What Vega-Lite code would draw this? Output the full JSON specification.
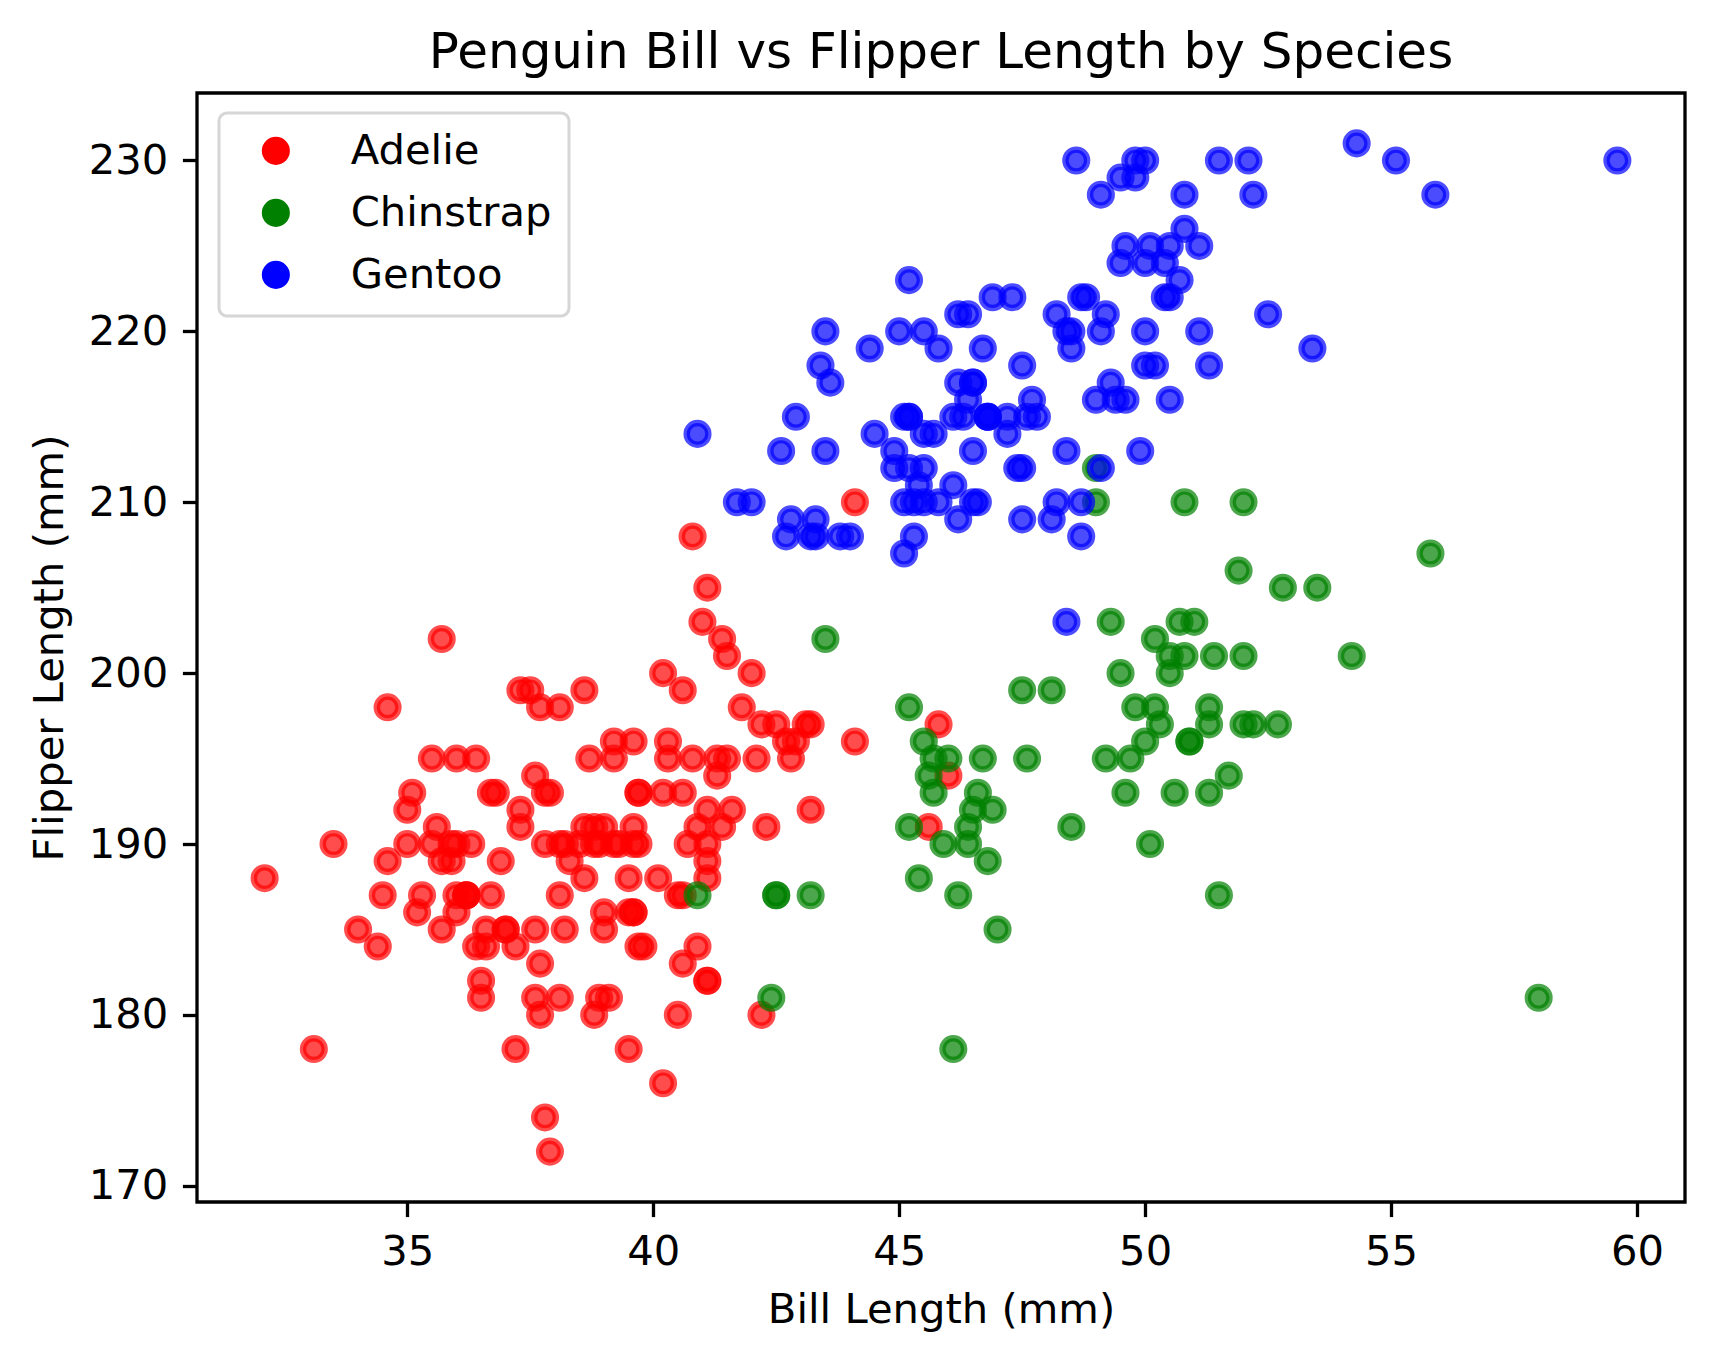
{
"$schema": "https://vega.github.io/schema/vega-lite/v6.json",
"width": 1488, "height": 1109,
"autosize": {"type": "none"},
"padding": {"left": 197, "top": 93, "right": 30, "bottom": 159},
"background": "white",
"title": {"text": "Penguin Bill vs Flipper Length by Species", "fontSize": 50, "font": "DejaVu Sans", "fontWeight": "normal", "color": "black", "anchor": "middle", "baseline": "alphabetic", "offset": 25, "dy": 50},
"data": {"values": [
{"species":"Adelie","bill":39.1,"flipper":181},{"species":"Adelie","bill":39.5,"flipper":186},{"species":"Adelie","bill":40.3,"flipper":195},{"species":"Adelie","bill":36.7,"flipper":193},{"species":"Adelie","bill":39.3,"flipper":190},{"species":"Adelie","bill":38.9,"flipper":181},{"species":"Adelie","bill":39.2,"flipper":195},{"species":"Adelie","bill":41.1,"flipper":182},{"species":"Adelie","bill":38.6,"flipper":191},{"species":"Adelie","bill":34.6,"flipper":198},{"species":"Adelie","bill":36.6,"flipper":185},{"species":"Adelie","bill":38.7,"flipper":195},{"species":"Adelie","bill":42.5,"flipper":197},{"species":"Adelie","bill":34.4,"flipper":184},{"species":"Adelie","bill":46.0,"flipper":194},
{"species":"Adelie","bill":37.8,"flipper":174},{"species":"Adelie","bill":37.7,"flipper":180},{"species":"Adelie","bill":35.9,"flipper":189},{"species":"Adelie","bill":38.2,"flipper":185},{"species":"Adelie","bill":38.8,"flipper":180},{"species":"Adelie","bill":35.3,"flipper":187},{"species":"Adelie","bill":40.6,"flipper":183},{"species":"Adelie","bill":40.5,"flipper":187},{"species":"Adelie","bill":37.9,"flipper":172},{"species":"Adelie","bill":40.5,"flipper":180},
{"species":"Adelie","bill":39.5,"flipper":178},{"species":"Adelie","bill":37.2,"flipper":178},{"species":"Adelie","bill":39.5,"flipper":188},{"species":"Adelie","bill":40.9,"flipper":184},{"species":"Adelie","bill":36.4,"flipper":195},{"species":"Adelie","bill":39.2,"flipper":196},{"species":"Adelie","bill":38.8,"flipper":190},{"species":"Adelie","bill":42.2,"flipper":180},{"species":"Adelie","bill":37.6,"flipper":181},{"species":"Adelie","bill":39.8,"flipper":184},{"species":"Adelie","bill":36.5,"flipper":182},{"species":"Adelie","bill":40.8,"flipper":195},{"species":"Adelie","bill":36.0,"flipper":186},{"species":"Adelie","bill":44.1,"flipper":196},{"species":"Adelie","bill":37.0,"flipper":185},{"species":"Adelie","bill":39.6,"flipper":190},{"species":"Adelie","bill":41.1,"flipper":182},{"species":"Adelie","bill":36.0,"flipper":190},{"species":"Adelie","bill":42.3,"flipper":191},
{"species":"Adelie","bill":39.6,"flipper":186},{"species":"Adelie","bill":40.1,"flipper":188},{"species":"Adelie","bill":35.0,"flipper":190},{"species":"Adelie","bill":42.0,"flipper":200},{"species":"Adelie","bill":34.5,"flipper":187},{"species":"Adelie","bill":41.4,"flipper":191},{"species":"Adelie","bill":39.0,"flipper":186},{"species":"Adelie","bill":40.6,"flipper":193},{"species":"Adelie","bill":36.5,"flipper":181},{"species":"Adelie","bill":37.6,"flipper":194},{"species":"Adelie","bill":35.7,"flipper":185},{"species":"Adelie","bill":41.3,"flipper":195},{"species":"Adelie","bill":37.6,"flipper":185},{"species":"Adelie","bill":41.1,"flipper":192},{"species":"Adelie","bill":36.4,"flipper":184},{"species":"Adelie","bill":41.6,"flipper":192},{"species":"Adelie","bill":35.5,"flipper":195},{"species":"Adelie","bill":41.1,"flipper":188},
{"species":"Adelie","bill":35.9,"flipper":190},{"species":"Adelie","bill":41.8,"flipper":198},{"species":"Adelie","bill":33.5,"flipper":190},{"species":"Adelie","bill":39.7,"flipper":190},{"species":"Adelie","bill":39.6,"flipper":196},{"species":"Adelie","bill":45.8,"flipper":197},{"species":"Adelie","bill":35.5,"flipper":190},{"species":"Adelie","bill":42.8,"flipper":195},{"species":"Adelie","bill":40.9,"flipper":191},{"species":"Adelie","bill":37.2,"flipper":184},{"species":"Adelie","bill":36.2,"flipper":187},{"species":"Adelie","bill":42.1,"flipper":195},{"species":"Adelie","bill":34.6,"flipper":189},{"species":"Adelie","bill":42.9,"flipper":196},{"species":"Adelie","bill":36.7,"flipper":187},{"species":"Adelie","bill":35.1,"flipper":193},
{"species":"Adelie","bill":37.3,"flipper":191},{"species":"Adelie","bill":41.3,"flipper":194},{"species":"Adelie","bill":36.3,"flipper":190},{"species":"Adelie","bill":36.9,"flipper":189},{"species":"Adelie","bill":38.3,"flipper":189},{"species":"Adelie","bill":38.9,"flipper":190},{"species":"Adelie","bill":35.7,"flipper":202},{"species":"Adelie","bill":41.1,"flipper":205},{"species":"Adelie","bill":34.0,"flipper":185},{"species":"Adelie","bill":39.6,"flipper":186},{"species":"Adelie","bill":36.2,"flipper":187},{"species":"Adelie","bill":40.8,"flipper":208},{"species":"Adelie","bill":38.1,"flipper":190},{"species":"Adelie","bill":40.3,"flipper":196},{"species":"Adelie","bill":33.1,"flipper":178},{"species":"Adelie","bill":43.2,"flipper":192},
{"species":"Adelie","bill":35.0,"flipper":192},{"species":"Adelie","bill":41.0,"flipper":203},{"species":"Adelie","bill":37.7,"flipper":183},{"species":"Adelie","bill":37.8,"flipper":190},{"species":"Adelie","bill":37.9,"flipper":193},{"species":"Adelie","bill":39.7,"flipper":184},{"species":"Adelie","bill":38.6,"flipper":199},{"species":"Adelie","bill":38.2,"flipper":190},{"species":"Adelie","bill":38.1,"flipper":181},{"species":"Adelie","bill":43.2,"flipper":197},{"species":"Adelie","bill":38.1,"flipper":198},{"species":"Adelie","bill":45.6,"flipper":191},{"species":"Adelie","bill":39.7,"flipper":193},{"species":"Adelie","bill":42.2,"flipper":197},{"species":"Adelie","bill":39.6,"flipper":191},{"species":"Adelie","bill":42.7,"flipper":196},
{"species":"Adelie","bill":38.6,"flipper":188},{"species":"Adelie","bill":37.3,"flipper":199},{"species":"Adelie","bill":35.7,"flipper":189},{"species":"Adelie","bill":41.1,"flipper":189},{"species":"Adelie","bill":36.2,"flipper":187},{"species":"Adelie","bill":37.7,"flipper":198},{"species":"Adelie","bill":40.2,"flipper":176},{"species":"Adelie","bill":41.4,"flipper":202},{"species":"Adelie","bill":35.2,"flipper":186},{"species":"Adelie","bill":40.6,"flipper":199},{"species":"Adelie","bill":38.8,"flipper":191},{"species":"Adelie","bill":41.5,"flipper":195},{"species":"Adelie","bill":39.0,"flipper":191},{"species":"Adelie","bill":44.1,"flipper":210},{"species":"Adelie","bill":38.5,"flipper":190},{"species":"Adelie","bill":43.1,"flipper":197},
{"species":"Adelie","bill":36.8,"flipper":193},{"species":"Adelie","bill":37.5,"flipper":199},{"species":"Adelie","bill":38.1,"flipper":187},{"species":"Adelie","bill":41.1,"flipper":190},{"species":"Adelie","bill":35.6,"flipper":191},{"species":"Adelie","bill":40.2,"flipper":200},{"species":"Adelie","bill":37.0,"flipper":185},{"species":"Adelie","bill":39.7,"flipper":193},{"species":"Adelie","bill":40.2,"flipper":193},{"species":"Adelie","bill":40.6,"flipper":187},{"species":"Adelie","bill":32.1,"flipper":188},{"species":"Adelie","bill":40.7,"flipper":190},{"species":"Adelie","bill":37.3,"flipper":192},{"species":"Adelie","bill":39.0,"flipper":185},{"species":"Adelie","bill":39.2,"flipper":190},{"species":"Adelie","bill":36.6,"flipper":184},{"species":"Adelie","bill":36.0,"flipper":195},{"species":"Adelie","bill":37.8,"flipper":193},{"species":"Adelie","bill":36.0,"flipper":187},{"species":"Adelie","bill":41.5,"flipper":201},
{"species":"Chinstrap","bill":46.5,"flipper":192},{"species":"Chinstrap","bill":50.0,"flipper":196},{"species":"Chinstrap","bill":51.3,"flipper":193},{"species":"Chinstrap","bill":45.4,"flipper":188},{"species":"Chinstrap","bill":52.7,"flipper":197},{"species":"Chinstrap","bill":45.2,"flipper":198},{"species":"Chinstrap","bill":46.1,"flipper":178},{"species":"Chinstrap","bill":51.3,"flipper":197},{"species":"Chinstrap","bill":46.0,"flipper":195},{"species":"Chinstrap","bill":51.3,"flipper":198},{"species":"Chinstrap","bill":46.6,"flipper":193},{"species":"Chinstrap","bill":51.7,"flipper":194},{"species":"Chinstrap","bill":47.0,"flipper":185},{"species":"Chinstrap","bill":52.0,"flipper":201},{"species":"Chinstrap","bill":45.9,"flipper":190},{"species":"Chinstrap","bill":50.5,"flipper":201},{"species":"Chinstrap","bill":50.3,"flipper":197},{"species":"Chinstrap","bill":58.0,"flipper":181},{"species":"Chinstrap","bill":46.4,"flipper":190},{"species":"Chinstrap","bill":49.2,"flipper":195},{"species":"Chinstrap","bill":42.4,"flipper":181},{"species":"Chinstrap","bill":48.5,"flipper":191},{"species":"Chinstrap","bill":43.2,"flipper":187},{"species":"Chinstrap","bill":50.6,"flipper":193},{"species":"Chinstrap","bill":46.7,"flipper":195},{"species":"Chinstrap","bill":52.0,"flipper":197},{"species":"Chinstrap","bill":50.5,"flipper":200},{"species":"Chinstrap","bill":49.5,"flipper":200},{"species":"Chinstrap","bill":46.4,"flipper":191},{"species":"Chinstrap","bill":52.8,"flipper":205},{"species":"Chinstrap","bill":40.9,"flipper":187},{"species":"Chinstrap","bill":54.2,"flipper":201},{"species":"Chinstrap","bill":42.5,"flipper":187},{"species":"Chinstrap","bill":51.0,"flipper":203},{"species":"Chinstrap","bill":49.7,"flipper":195},{"species":"Chinstrap","bill":47.5,"flipper":199},{"species":"Chinstrap","bill":47.6,"flipper":195},{"species":"Chinstrap","bill":52.0,"flipper":210},{"species":"Chinstrap","bill":46.9,"flipper":192},{"species":"Chinstrap","bill":53.5,"flipper":205},{"species":"Chinstrap","bill":49.0,"flipper":210},{"species":"Chinstrap","bill":46.2,"flipper":187},{"species":"Chinstrap","bill":50.9,"flipper":196},{"species":"Chinstrap","bill":45.5,"flipper":196},{"species":"Chinstrap","bill":50.9,"flipper":196},{"species":"Chinstrap","bill":50.8,"flipper":201},{"species":"Chinstrap","bill":50.1,"flipper":190},{"species":"Chinstrap","bill":49.0,"flipper":212},{"species":"Chinstrap","bill":51.5,"flipper":187},{"species":"Chinstrap","bill":49.8,"flipper":198},{"species":"Chinstrap","bill":48.1,"flipper":199},{"species":"Chinstrap","bill":51.4,"flipper":201},{"species":"Chinstrap","bill":45.7,"flipper":193},{"species":"Chinstrap","bill":50.7,"flipper":203},{"species":"Chinstrap","bill":42.5,"flipper":187},{"species":"Chinstrap","bill":52.2,"flipper":197},{"species":"Chinstrap","bill":45.2,"flipper":191},{"species":"Chinstrap","bill":49.3,"flipper":203},{"species":"Chinstrap","bill":50.2,"flipper":202},{"species":"Chinstrap","bill":45.6,"flipper":194},{"species":"Chinstrap","bill":51.9,"flipper":206},{"species":"Chinstrap","bill":46.8,"flipper":189},{"species":"Chinstrap","bill":45.7,"flipper":195},{"species":"Chinstrap","bill":55.8,"flipper":207},{"species":"Chinstrap","bill":43.5,"flipper":202},{"species":"Chinstrap","bill":49.6,"flipper":193},{"species":"Chinstrap","bill":50.8,"flipper":210},{"species":"Chinstrap","bill":50.2,"flipper":198},
{"species":"Gentoo","bill":46.1,"flipper":211},{"species":"Gentoo","bill":50.0,"flipper":230},{"species":"Gentoo","bill":48.7,"flipper":210},{"species":"Gentoo","bill":50.0,"flipper":218},{"species":"Gentoo","bill":47.6,"flipper":215},{"species":"Gentoo","bill":46.5,"flipper":210},{"species":"Gentoo","bill":45.4,"flipper":211},{"species":"Gentoo","bill":46.7,"flipper":219},{"species":"Gentoo","bill":43.3,"flipper":209},{"species":"Gentoo","bill":46.8,"flipper":215},{"species":"Gentoo","bill":40.9,"flipper":214},{"species":"Gentoo","bill":49.0,"flipper":216},{"species":"Gentoo","bill":45.5,"flipper":214},{"species":"Gentoo","bill":48.4,"flipper":213},{"species":"Gentoo","bill":45.8,"flipper":210},{"species":"Gentoo","bill":49.3,"flipper":217},{"species":"Gentoo","bill":42.0,"flipper":210},{"species":"Gentoo","bill":49.2,"flipper":221},{"species":"Gentoo","bill":46.2,"flipper":209},{"species":"Gentoo","bill":48.7,"flipper":222},{"species":"Gentoo","bill":50.2,"flipper":218},{"species":"Gentoo","bill":45.1,"flipper":215},{"species":"Gentoo","bill":46.5,"flipper":213},{"species":"Gentoo","bill":46.3,"flipper":215},{"species":"Gentoo","bill":42.9,"flipper":215},{"species":"Gentoo","bill":46.1,"flipper":215},{"species":"Gentoo","bill":47.8,"flipper":215},{"species":"Gentoo","bill":48.2,"flipper":210},{"species":"Gentoo","bill":50.0,"flipper":220},{"species":"Gentoo","bill":47.3,"flipper":222},{"species":"Gentoo","bill":42.8,"flipper":209},{"species":"Gentoo","bill":45.1,"flipper":207},{"species":"Gentoo","bill":59.6,"flipper":230},{"species":"Gentoo","bill":49.1,"flipper":220},{"species":"Gentoo","bill":48.4,"flipper":220},{"species":"Gentoo","bill":42.6,"flipper":213},{"species":"Gentoo","bill":44.4,"flipper":219},{"species":"Gentoo","bill":44.0,"flipper":208},{"species":"Gentoo","bill":48.7,"flipper":208},{"species":"Gentoo","bill":42.7,"flipper":208},{"species":"Gentoo","bill":49.6,"flipper":225},{"species":"Gentoo","bill":45.3,"flipper":210},{"species":"Gentoo","bill":49.6,"flipper":216},{"species":"Gentoo","bill":50.5,"flipper":222},{"species":"Gentoo","bill":43.6,"flipper":217},{"species":"Gentoo","bill":45.5,"flipper":210},{"species":"Gentoo","bill":50.5,"flipper":225},{"species":"Gentoo","bill":44.9,"flipper":213},{"species":"Gentoo","bill":45.2,"flipper":215},{"species":"Gentoo","bill":46.6,"flipper":210},{"species":"Gentoo","bill":48.5,"flipper":220},{"species":"Gentoo","bill":45.1,"flipper":210},{"species":"Gentoo","bill":50.1,"flipper":225},{"species":"Gentoo","bill":46.5,"flipper":217},{"species":"Gentoo","bill":45.0,"flipper":220},{"species":"Gentoo","bill":43.8,"flipper":208},{"species":"Gentoo","bill":45.5,"flipper":220},{"species":"Gentoo","bill":43.2,"flipper":208},{"species":"Gentoo","bill":50.4,"flipper":224},{"species":"Gentoo","bill":45.3,"flipper":208},{"species":"Gentoo","bill":46.2,"flipper":221},{"species":"Gentoo","bill":45.7,"flipper":214},{"species":"Gentoo","bill":54.3,"flipper":231},{"species":"Gentoo","bill":45.8,"flipper":219},{"species":"Gentoo","bill":49.8,"flipper":230},{"species":"Gentoo","bill":49.5,"flipper":229},{"species":"Gentoo","bill":43.5,"flipper":220},{"species":"Gentoo","bill":50.7,"flipper":223},{"species":"Gentoo","bill":47.7,"flipper":216},{"species":"Gentoo","bill":46.4,"flipper":221},{"species":"Gentoo","bill":48.2,"flipper":221},{"species":"Gentoo","bill":46.5,"flipper":217},{"species":"Gentoo","bill":46.4,"flipper":216},{"species":"Gentoo","bill":48.6,"flipper":230},{"species":"Gentoo","bill":47.5,"flipper":209},{"species":"Gentoo","bill":51.1,"flipper":220},{"species":"Gentoo","bill":45.2,"flipper":215},{"species":"Gentoo","bill":45.2,"flipper":223},{"species":"Gentoo","bill":49.1,"flipper":212},{"species":"Gentoo","bill":52.5,"flipper":221},{"species":"Gentoo","bill":47.4,"flipper":212},{"species":"Gentoo","bill":50.0,"flipper":224},{"species":"Gentoo","bill":44.9,"flipper":212},{"species":"Gentoo","bill":50.8,"flipper":228},{"species":"Gentoo","bill":43.4,"flipper":218},{"species":"Gentoo","bill":51.3,"flipper":218},{"species":"Gentoo","bill":47.5,"flipper":212},{"species":"Gentoo","bill":52.1,"flipper":230},{"species":"Gentoo","bill":47.5,"flipper":218},{"species":"Gentoo","bill":52.2,"flipper":228},{"species":"Gentoo","bill":45.5,"flipper":212},{"species":"Gentoo","bill":49.5,"flipper":224},{"species":"Gentoo","bill":44.5,"flipper":214},{"species":"Gentoo","bill":50.8,"flipper":226},{"species":"Gentoo","bill":49.4,"flipper":216},{"species":"Gentoo","bill":46.9,"flipper":222},{"species":"Gentoo","bill":48.4,"flipper":203},{"species":"Gentoo","bill":51.1,"flipper":225},{"species":"Gentoo","bill":48.5,"flipper":219},{"species":"Gentoo","bill":55.9,"flipper":228},{"species":"Gentoo","bill":47.2,"flipper":215},{"species":"Gentoo","bill":49.1,"flipper":228},{"species":"Gentoo","bill":46.8,"flipper":215},{"species":"Gentoo","bill":41.7,"flipper":210},{"species":"Gentoo","bill":53.4,"flipper":219},{"species":"Gentoo","bill":43.3,"flipper":208},{"species":"Gentoo","bill":48.1,"flipper":209},{"species":"Gentoo","bill":50.5,"flipper":216},{"species":"Gentoo","bill":49.8,"flipper":229},{"species":"Gentoo","bill":43.5,"flipper":213},{"species":"Gentoo","bill":51.5,"flipper":230},{"species":"Gentoo","bill":46.2,"flipper":217},{"species":"Gentoo","bill":55.1,"flipper":230},{"species":"Gentoo","bill":48.8,"flipper":222},{"species":"Gentoo","bill":47.2,"flipper":214},{"species":"Gentoo","bill":46.8,"flipper":215},{"species":"Gentoo","bill":50.4,"flipper":222},{"species":"Gentoo","bill":45.2,"flipper":212},{"species":"Gentoo","bill":49.9,"flipper":213}
]},
"mark": {"type": "point", "filled": true, "shape": "circle", "size": 470, "strokeWidth": 6.4, "opacity": 1, "fillOpacity": 0.7, "strokeOpacity": 0.7},
"encoding": {
"x": {"field": "bill", "type": "quantitative", "scale": {"domain": [30.725, 60.975], "nice": false, "zero": false}, "axis": {"title": "Bill Length (mm)", "values": [35, 40, 45, 50, 55, 60]}},
"y": {"field": "flipper", "type": "quantitative", "scale": {"domain": [169.05, 233.95], "nice": false, "zero": false}, "axis": {"title": "Flipper Length (mm)", "values": [170, 180, 190, 200, 210, 220, 230]}},
"color": {"field": "species", "type": "nominal", "scale": {"domain": ["Adelie", "Chinstrap", "Gentoo"], "range": ["red", "green", "blue"]}, "title": null,
  "legend": {"encode": {"symbols": {"stroke": {"scale": "color", "field": "value"}, "strokeWidth": {"value": 6.4}, "fillOpacity": {"value": 0.7}, "strokeOpacity": {"value": 0.7}, "opacity": {"value": 1}}}}},
"stroke": {"field": "species", "type": "nominal", "scale": {"domain": ["Adelie", "Chinstrap", "Gentoo"], "range": ["red", "green", "blue"]}, "legend": null}
},
"config": {
"view": {"stroke": "black", "strokeWidth": 3.3},
"axis": {"domain": false, "grid": false, "ticks": true, "tickColor": "black", "tickWidth": 3.3, "tickSize": 14.6, "labelFontSize": 41.7, "labelFont": "DejaVu Sans", "labelColor": "black", "labelPadding": 14.6, "titleFontSize": 41.7, "titleFont": "DejaVu Sans", "titleFontWeight": "normal", "titleColor": "black", "titlePadding": 16.7, "labelFlush": false, "labelOverlap": false},
"legend": {"orient": "none", "legendX": 22, "legendY": 20, "padding": 17, "fillColor": "white", "strokeColor": "#d6d6d6", "strokeWidth": 3, "cornerRadius": 8, "labelFontSize": 41.7, "labelFont": "DejaVu Sans", "labelColor": "black", "labelLimit": 500, "symbolSize": 470, "symbolStrokeWidth": 6.4, "symbolType": "circle", "rowPadding": 14, "symbolOffset": 19, "labelOffset": 54}
}
}
